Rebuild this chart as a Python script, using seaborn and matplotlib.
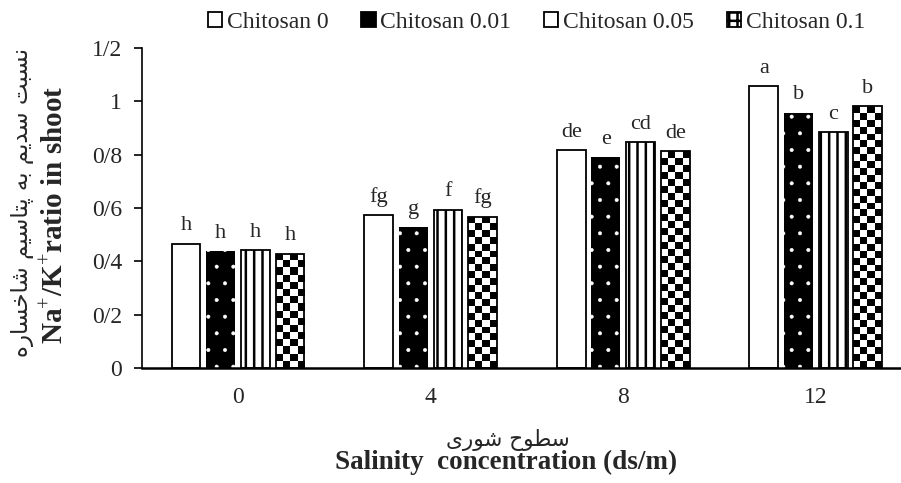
import matplotlib
matplotlib.use("Agg")
import matplotlib.pyplot as plt
from matplotlib.patches import Patch
import numpy as np
import pandas as pd
import seaborn as sns

salinity = ["0", "4", "8", "12"]
treatments = ["Chitosan 0", "Chitosan 0.01", "Chitosan 0.05", "Chitosan 0.1"]
chitosan_0 = [0.466, 0.574, 0.817, 1.057]
chitosan_001 = [0.439, 0.529, 0.790, 0.957]
chitosan_005 = [0.441, 0.594, 0.846, 0.884]
chitosan_01 = [0.429, 0.567, 0.812, 0.982]
letters_0 = ["h", "fg", "de", "a"]
letters_001 = ["h", "g", "e", "b"]
letters_005 = ["h", "f", "cd", "c"]
letters_01 = ["h", "fg", "de", "b"]
y_ticks = [0, 0.2, 0.4, 0.6, 0.8, 1.0, 1.2]
y_tick_labels = ["0", "0/2", "0/4", "0/6", "0/8", "1", "1/2"]

# Persian labels, written with presentation forms (logical order), reversed for display
fa_ylabel = ("\uFEE7\uFEB4\uFE92\uFE96 \uFEB3\uFEAA\uFEF3\uFEE2 \uFE91\uFEEA "
             "\uFB58\uFE98\uFE8E\uFEB3\uFEF4\uFEE2 \uFEB7\uFE8E\uFEA7\uFEB4\uFE8E\uFEAD\uFEE9")[::-1]
fa_xlabel = "\uFEB3\uFEC4\uFEEE\uFEA1 \uFEB7\uFEEE\uFEAD\uFEEF"[::-1]

values = [chitosan_0, chitosan_001, chitosan_005, chitosan_01]
letters = [letters_0, letters_001, letters_005, letters_01]

rows = []
for t, vals in zip(treatments, values):
    for s, v in zip(salinity, vals):
        rows.append({"salinity": s, "treatment": t, "ratio": v})
df = pd.DataFrame(rows)

sns.set_theme(style="white")
plt.rcParams["font.family"] = ["Liberation Serif", "DejaVu Sans"]
plt.rcParams["mathtext.fontset"] = "custom"
plt.rcParams["mathtext.rm"] = "Liberation Serif"
plt.rcParams["mathtext.bf"] = "Liberation Serif:bold"
plt.rcParams["hatch.linewidth"] = 1.8

fig = plt.figure(figsize=(9.01, 4.83), dpi=100)
ax = fig.add_axes([0.1573, 0.2381, 0.855, 0.6625])

palette = {"Chitosan 0": "white", "Chitosan 0.01": "black",
           "Chitosan 0.05": "white", "Chitosan 0.1": "white"}
sns.barplot(data=df, x="salinity", y="ratio", hue="treatment", order=salinity,
            hue_order=treatments, palette=palette, saturation=1, width=0.72,
            gap=0.17, edgecolor="black", linewidth=1.3, legend=False, ax=ax)

# dotted black bars
for bar in ax.containers[1]:
    bar.set_edgecolor("white")
    bar.set_linewidth(0)
    bar.set_hatch(".")
    if hasattr(bar, "set_hatch_linewidth"):
        bar.set_hatch_linewidth(0.4)
# vertical stripes
for bar in ax.containers[2]:
    bar.set_hatch("||")
# checkerboard
for bar in ax.containers[3]:
    x0, y0 = bar.get_x(), bar.get_y()
    w, h = bar.get_width(), bar.get_height()
    nrows = max(1, int(round(h / 0.026)))
    grid = np.add.outer(np.arange(nrows), np.arange(4)) % 2
    bar.set_facecolor("none")
    im = ax.imshow(grid, cmap="gray_r", extent=(x0, x0 + w, y0, y0 + h),
                   origin="lower", aspect="auto", interpolation="nearest",
                   zorder=bar.get_zorder() - 0.05)
    im.set_clip_path(bar)

for cont, labs in zip(ax.containers, letters):
    ax.bar_label(cont, labels=labs, padding=6, fontsize=16)

ax.set_xlim(-0.5, 3.5)
ax.set_ylim(0, 1.2)
ax.set_yticks(y_ticks)
ax.set_yticklabels(y_tick_labels)
ax.set_xlabel("")
ax.set_ylabel("")
ax.tick_params(axis="y", length=6, width=1.2, color="black", pad=8, labelsize=17,
               left=True)
ax.tick_params(axis="x", length=0, pad=14, labelsize=17)
sns.despine(ax=ax, top=True, right=True)
ax.spines["left"].set_color("black")
ax.spines["left"].set_linewidth(1.2)
ax.spines["bottom"].set_color("black")
ax.spines["bottom"].set_linewidth(1.8)

handles = [
    Patch(facecolor="white", edgecolor="black", linewidth=1.3),
    Patch(facecolor="black", edgecolor="black", linewidth=1.3),
    Patch(facecolor="white", edgecolor="black", linewidth=1.3, hatch="|"),
    Patch(facecolor="white", edgecolor="black", linewidth=1.3, hatch="++"),
]
fig.legend(handles, treatments, loc="center", bbox_to_anchor=(0.5955, 0.953),
           ncol=4, frameon=False, fontsize=17, handlelength=0.6,
           handleheight=0.6, handletextpad=0.2, columnspacing=1.4)

fig.text(0.0255, 0.580, fa_ylabel, rotation=90, ha="center", va="center",
         fontsize=16.5, family="DejaVu Sans")
fig.text(0.0610, 0.555, r"Na$^{+}$/K$^{+}$ratio in shoot", rotation=90,
         ha="center", va="center", fontsize=21, fontweight="bold")
fig.text(0.5640, 0.089, fa_xlabel, ha="center", va="center", fontsize=15.5,
         family="DejaVu Sans")
fig.text(0.5620, 0.043, "Salinity  concentration (ds/m)", ha="center",
         va="center", fontsize=19.5, fontweight="bold")

fig.savefig("out.png", dpi=100)
